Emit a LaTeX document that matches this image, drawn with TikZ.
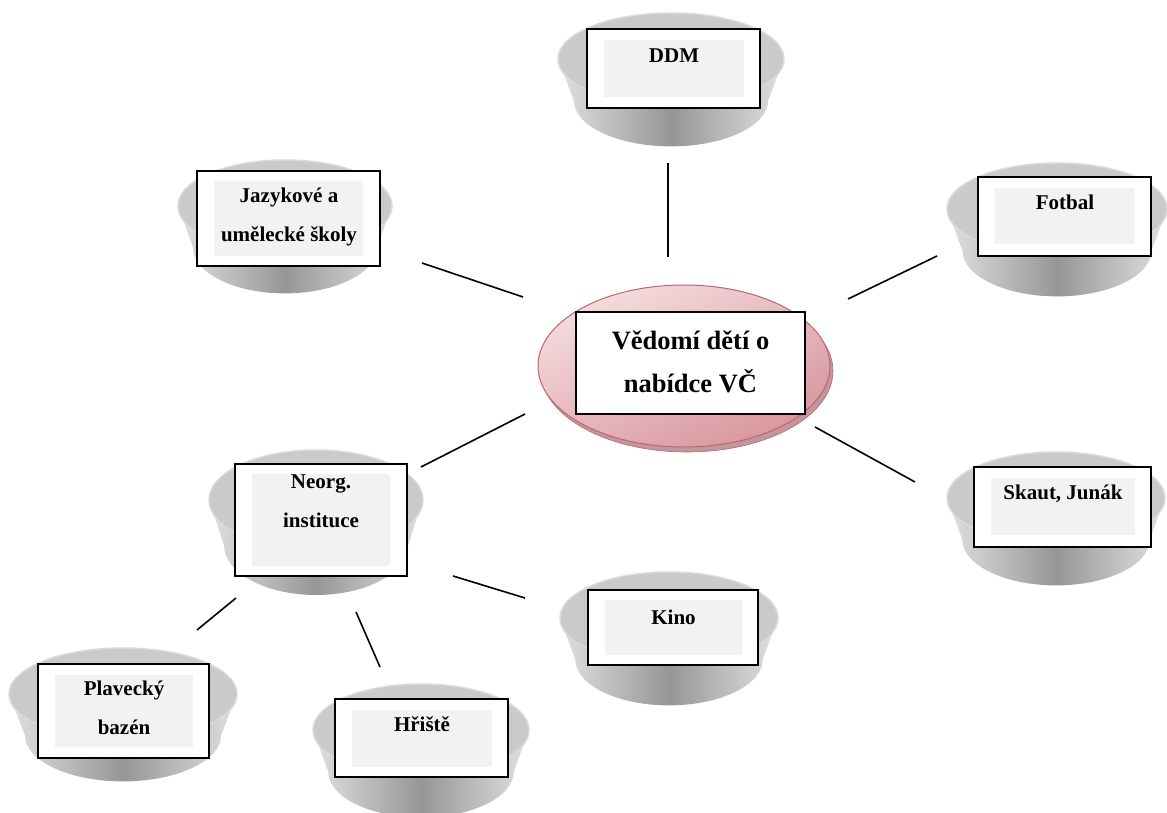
\documentclass[tikz,border=0pt]{standalone}
\usepackage{fontspec}
\setmainfont{Liberation Serif}
\usepackage{tikz}
\usetikzlibrary{shapes,positioning}
\usepackage{xcolor}
\definecolor{rimgray}{RGB}{218,218,218}
\definecolor{topgray}{RGB}{202,202,202}
\definecolor{sidelight}{RGB}{225,225,225}
\definecolor{sidedark}{RGB}{150,150,150}
\definecolor{innergray}{RGB}{242,242,242}
\definecolor{vcpink}{RGB}{244,220,222}
\definecolor{vcrose}{RGB}{216,150,158}
\definecolor{vcred}{RGB}{188,102,112}
\definecolor{vcshade}{RGB}{196,150,155}
\tikzstyle{outerbox} = [rectangle, draw=black, line width=2.4pt, fill=white, inner sep=0pt]
\tikzstyle{innerbox} = [rectangle, fill=innergray, inner sep=0pt]
\tikzstyle{itemtext} = [font=\fontsize{21}{39}\selectfont\bfseries, align=center, inner sep=0pt]
\tikzstyle{conn} = [line width=1.6pt, color=black]
% bowl: centre of top face, x radius, y radius
\newcommand{\bowl}[4]{%
  \shade[left color=sidelight, right color=sidelight, middle color=sidedark]
    ({#1-#3},#2) -- ({#1-0.86*#3},{#2+0.9*#4})
    arc[start angle=180, end angle=0, x radius={0.86*#3}, y radius=#4]
    -- ({#1+#3},#2)
    arc[start angle=0, end angle=180, x radius=#3, y radius=#4] -- cycle;
  \draw[draw=rimgray, line width=1.5pt, fill=topgray] (#1,#2) ellipse[x radius=#3, y radius=#4];
}
\begin{document}
\begin{tikzpicture}[x=1pt, y=-1pt]
\useasboundingbox (0,0) rectangle (1167,813);
% bowls
\bowl{671}{59}{113}{46}
\bowl{285}{206}{107}{46}
\bowl{1057}{209}{110}{46}
\bowl{1056}{498}{109}{46}
\bowl{316}{500}{107}{50}
\bowl{669}{618}{109}{46}
\bowl{123}{694}{114}{46}
\bowl{421}{730}{108}{46}
% centre
\node[ellipse, minimum width=292, minimum height=162, fill=vcshade, draw=vcred!80!gray, line width=0.6pt] (vcbase) at (687,371) {};
\node[ellipse, minimum width=292, minimum height=162, draw=vcred, line width=1pt, top color=vcpink, bottom color=vcrose, shading angle=25] (vc) at (684,366) {};
\node[outerbox, minimum width=229, minimum height=102] (vcbox) at (690.5,363) {};
\node[itemtext, font=\fontsize{26.5}{43}\selectfont\bfseries] (vctext) at (690.5,362) {Vědomí dětí o\\nabídce VČ};
% boxes
\node[outerbox, minimum width=173, minimum height=79] (ddm) at (673.5,68.5) {};
\node[innerbox, minimum width=140, minimum height=57] (ddm-in) at (674,68.5) {};
\node[itemtext] (ddm-t) at (674,56) {DDM};
\node[outerbox, minimum width=183, minimum height=95] (jaz) at (288.5,218.5) {};
\node[innerbox, minimum width=149, minimum height=75] (jaz-in) at (288.5,218.5) {};
\node[itemtext] (jaz-t) at (289,217) {Jazykové a\\umělecké školy};
\node[outerbox, minimum width=173, minimum height=79] (fot) at (1064.5,216.5) {};
\node[innerbox, minimum width=140, minimum height=56] (fot-in) at (1065,216) {};
\node[itemtext] (fot-t) at (1065,202) {Fotbal};
\node[outerbox, minimum width=177, minimum height=80] (ska) at (1062.5,507) {};
\node[innerbox, minimum width=144, minimum height=57] (ska-in) at (1063,506.5) {};
\node[itemtext] (ska-t) at (1063,494) {Skaut, Junák};
\node[outerbox, minimum width=172, minimum height=112] (neo) at (321,520) {};
\node[innerbox, minimum width=138, minimum height=92] (neo-in) at (321,520) {};
\node[itemtext] (neo-t) at (321,501) {Neorg.\\instituce};
\node[outerbox, minimum width=170, minimum height=75] (kin) at (673,627.5) {};
\node[innerbox, minimum width=137, minimum height=55] (kin-in) at (673.5,627.5) {};
\node[itemtext] (kin-t) at (673.5,617) {Kino};
\node[outerbox, minimum width=171, minimum height=94] (pla) at (123.5,711) {};
\node[innerbox, minimum width=138, minimum height=72] (pla-in) at (124,711) {};
\node[itemtext] (pla-t) at (124,708) {Plavecký\\bazén};
\node[outerbox, minimum width=173, minimum height=78] (hri) at (421.5,738) {};
\node[innerbox, minimum width=140, minimum height=57] (hri-in) at (422,738.5) {};
\node[itemtext] (hri-t) at (422,724) {Hřiště};
% connectors
\coordinate (ddm-a) at (668,163); \coordinate (ddm-b) at (668,257);
\coordinate (jaz-a) at (422,263); \coordinate (jaz-b) at (523,297);
\coordinate (fot-a) at (848,299); \coordinate (fot-b) at (937,256);
\coordinate (neo-a) at (421,467); \coordinate (neo-b) at (525,414);
\coordinate (ska-a) at (815,427); \coordinate (ska-b) at (915,482);
\coordinate (pla-a) at (236,598); \coordinate (pla-b) at (197,630);
\coordinate (hri-a) at (356,612); \coordinate (hri-b) at (380,667);
\coordinate (kin-a) at (453,576); \coordinate (kin-b) at (525,598);
\draw[conn] (ddm-a) -- (ddm-b);
\draw[conn] (jaz-a) -- (jaz-b);
\draw[conn] (fot-a) -- (fot-b);
\draw[conn] (neo-a) -- (neo-b);
\draw[conn] (ska-a) -- (ska-b);
\draw[conn] (pla-a) -- (pla-b);
\draw[conn] (hri-a) -- (hri-b);
\draw[conn] (kin-a) -- (kin-b);
\end{tikzpicture}
\end{document}
